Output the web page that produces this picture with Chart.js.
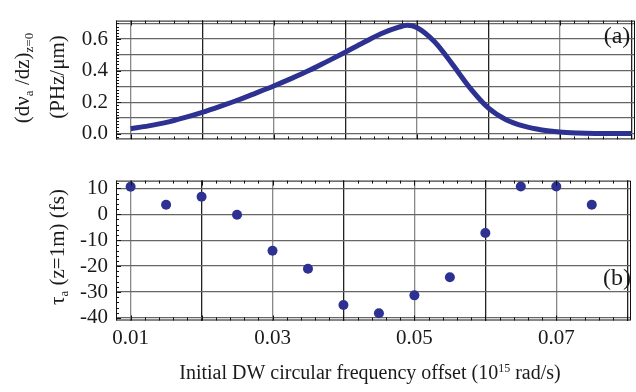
<!DOCTYPE html>
<html>
<head>
<meta charset="utf-8">
<script src="https://cdn.jsdelivr.net/npm/chart.js@4.4.1/dist/chart.umd.min.js"></script>
<style>
  html,body{margin:0;padding:0;background:#fff;}
  #wrap{position:relative;width:636px;height:392px;overflow:hidden;}
  #top{position:absolute;left:0;top:0;}
  #bot{position:absolute;left:0;top:160px;}
</style>
</head>
<body>
<div id="wrap">
  <canvas id="top" width="636" height="160"></canvas>
  <canvas id="bot" width="636" height="232"></canvas>
</div>
<script>
/* ===== data ===== */
// panel (a): dv_a/dz at z=0
const freqA = [0.01,0.0125,0.015,0.0175,0.02,0.0225,0.025,0.0275,0.03,0.0325,0.035,0.0375,
  0.04,0.0425,0.045,0.0475,0.0487,0.05,0.0525,0.055,0.0575,0.06,0.0625,0.065,0.0675,0.07,
  0.0725,0.075,0.0775,0.08];
const dvdz  = [0.032,0.050,0.072,0.102,0.136,0.174,0.214,0.258,0.303,0.351,0.402,0.459,
  0.517,0.577,0.634,0.676,0.688,0.674,0.583,0.440,0.288,0.164,0.089,0.048,0.024,0.011,
  0.005,0.002,0.001,0.001];
// panel (b): tau_a at z=1m
const freqB = [0.01,0.015,0.02,0.025,0.03,0.035,0.04,0.045,0.05,0.055,0.06,0.065,0.07,0.075];
const tauA  = [10.6,3.7,6.8,-0.2,-14.1,-21,-35,-38.2,-31.3,-24.3,-7.2,10.7,10.7,3.7];

// ticks / labels
const xTicks  = [0.01,0.02,0.03,0.04,0.05,0.06,0.07,0.08];
const xLabels = ['0.01','0.03','0.05','0.07'];
const yTicksA = [0,0.1,0.2,0.3,0.4,0.5,0.6,0.7];
const yLabelsA = ['0.0','0.2','0.4','0.6'];
const yTicksB = [10,0,-10,-20,-30,-40];

const BLUE = '#2c3192';
const INK = '#1a1a1a';
const SERIF = '"Liberation Serif","Times New Roman",serif';
const X_MIN = 0.00794, X_MAX = 0.08053;

/* ===== helpers ===== */
function richText(ctx, parts, cx, cy, rotate){
  ctx.save(); ctx.translate(cx, cy); if(rotate) ctx.rotate(-Math.PI/2);
  ctx.fillStyle = INK; ctx.textAlign = 'left'; ctx.textBaseline = 'alphabetic';
  let w = 0;
  parts.forEach(p=>{ ctx.font = p.size+'px '+SERIF; p.w = ctx.measureText(p.t).width; w += p.w; });
  let x = -w/2;
  parts.forEach(p=>{ ctx.font = p.size+'px '+SERIF; ctx.fillText(p.t, x, p.dy||0); x += p.w; });
  ctx.restore();
}
const vGrid = (c)=> { const v = Math.round((c.tick && c.tick.value)*100); return v%2===0 ? '#222' : '#888'; };

// frame + inward ticks (mathematica-like)
const framePlugin = {
  id:'frame',
  afterDraw(chart, args, o){
    const {ctx, chartArea:a, scales:{x, y}} = chart;
    ctx.save(); ctx.strokeStyle = '#111'; ctx.lineWidth = 1;
    ctx.strokeRect(a.left+0.5, a.top+0.5, a.right-a.left-1, a.bottom-a.top-1);
    ctx.beginPath();
    for(let i=4;i<=40;i++){
      const v = i*0.002, px = Math.round(x.getPixelForValue(v))+0.5;
      if(px<a.left || px>a.right) continue;
      const len = (i%5===0) ? 5 : 3;
      ctx.moveTo(px, a.bottom); ctx.lineTo(px, a.bottom-len);
      ctx.moveTo(px, a.top); ctx.lineTo(px, a.top+len);
    }
    for(let i=o.yFrom;i<=o.yTo;i++){
      const v = i*o.yStep, py = Math.round(y.getPixelForValue(v))+0.5;
      if(py<a.top || py>a.bottom) continue;
      const len = (i%o.yMajor===0) ? 5 : 3;
      ctx.moveTo(a.left, py); ctx.lineTo(a.left+len, py);
    }
    ctx.stroke(); ctx.restore();
  }
};

const labelsTop = {
  id:'labelsTop',
  afterDraw(chart){
    const ctx = chart.ctx;
    richText(ctx, [{t:'(dν',size:21},{t:'a',size:13,dy:4},{t:' /dz)',size:21},{t:'z=0',size:13,dy:4}], 29, 78, true);
    richText(ctx, [{t:'(PHz/μm)',size:21}], 64, 77, true);
    richText(ctx, [{t:'(a)',size:24}], 617, 43, false);
  }
};
const labelsBot = {
  id:'labelsBot',
  afterDraw(chart){
    const ctx = chart.ctx;
    richText(ctx, [{t:'τ',size:21},{t:'a',size:13,dy:4},{t:' (z=1m) (fs)',size:21}], 64, 87, true);
    richText(ctx, [{t:'(b)',size:24}], 617, 125, false);
    richText(ctx, [{t:'Initial DW circular frequency offset (10',size:20},{t:'15',size:12,dy:-7},{t:' rad/s)',size:20}], 370, 219, false);
  }
};

/* ===== top chart (a) ===== */
new Chart(document.getElementById('top'), {
  type:'line',
  data:{ datasets:[{
    data: freqA.map((f,i)=>({x:f, y:dvdz[i]})),
    borderColor:BLUE, borderWidth:5, pointRadius:0, cubicInterpolationMode:'monotone', borderCapStyle:'butt'
  }]},
  options:{
    responsive:false, animation:false, devicePixelRatio:1,
    layout:{padding:{left:0,right:1,top:1.5,bottom:0}},
    plugins:{legend:{display:false}, tooltip:{enabled:false}, frame:{yStep:0.02,yFrom:-1,yTo:36,yMajor:10}},
    scales:{
      x:{type:'linear', min:X_MIN, max:X_MAX,
        afterBuildTicks:s=>{ s.ticks = xTicks.map(v=>({value:v})); },
        afterFit:s=>{ s.height = 8.5; },
        ticks:{display:false, autoSkip:false}, border:{display:false},
        grid:{drawTicks:false, color:vGrid, lineWidth:1.3}},
      y:{min:-0.036, max:0.7176,
        afterBuildTicks:s=>{ s.ticks = yTicksA.map(v=>({value:v})); },
        afterFit:s=>{ s.width = 116; },
        ticks:{padding:8, color:INK, autoSkip:false, font:{family:SERIF, size:21},
          callback:(v)=>{ const k = Math.round(v*10); return k%2===0 ? yLabelsA[k/2] : ''; }},
        border:{display:false},
        grid:{drawTicks:false, color:'#666', lineWidth:1.3}}
    }
  },
  plugins:[framePlugin, labelsTop]
});

/* ===== bottom chart (b) ===== */
new Chart(document.getElementById('bot'), {
  type:'scatter',
  data:{ datasets:[{
    data: freqB.map((f,i)=>({x:f, y:tauA[i]})),
    backgroundColor:BLUE, borderColor:BLUE, pointRadius:5, pointBorderWidth:0
  }]},
  options:{
    responsive:false, animation:false, devicePixelRatio:1,
    layout:{padding:{left:0,right:1,top:10.5,bottom:0}},
    plugins:{legend:{display:false}, tooltip:{enabled:false}, frame:{yStep:2,yFrom:-21,yTo:7,yMajor:5}},
    scales:{
      x:{type:'linear', min:X_MIN, max:X_MAX,
        afterBuildTicks:s=>{ s.ticks = xTicks.map(v=>({value:v})); },
        afterFit:s=>{ s.height = 71.5; },
        ticks:{padding:5, color:INK, maxRotation:0, autoSkip:false, font:{family:SERIF, size:21},
          callback:(v)=>{ const k = Math.round(v*100); return k%2===1 ? xLabels[(k-1)/2] : ''; }},
        border:{display:false},
        grid:{drawTicks:false, color:vGrid, lineWidth:1.3}},
      y:{min:-41, max:13,
        afterBuildTicks:s=>{ s.ticks = yTicksB.map(v=>({value:v})); },
        afterFit:s=>{ s.width = 116; },
        ticks:{padding:8, color:INK, autoSkip:false, font:{family:SERIF, size:21}},
        border:{display:false},
        grid:{drawTicks:false, color:'#666', lineWidth:1.3}}
    }
  },
  plugins:[framePlugin, labelsBot]
});
</script>
</body>
</html>
